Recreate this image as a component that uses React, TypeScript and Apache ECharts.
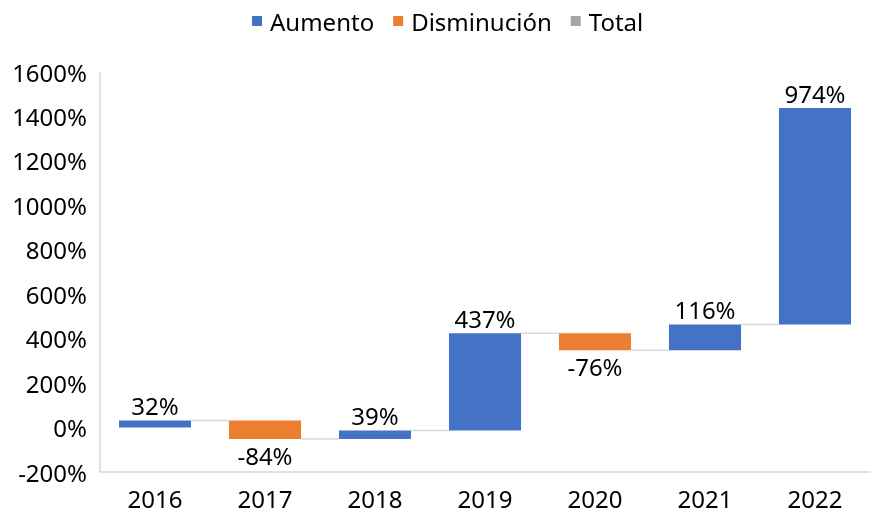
import React, { useEffect, useRef } from "react";
import * as echarts from "echarts";

const categories = ["2016", "2017", "2018", "2019", "2020", "2021", "2022"];
const changes = [32, -84, 39, 437, -76, 116, 974];
const legendNames = ["Aumento", "Disminución", "Total"];
const colors = { up: "#4472c4", down: "#ed7d31", total: "#a5a5a5", connector: "#d9d9d9" };
const yMin = -200;
const yMax = 1600;
const yInterval = 200;

const FONT = "Noto Sans";
const FS = 24;

export default function App() {
  const ref = useRef<HTMLDivElement>(null);
  useEffect(() => {
    if (!ref.current) return;
    const chart = echarts.init(ref.current, undefined, { renderer: "svg" });

    const starts: number[] = [];
    const ends: number[] = [];
    let cum = 0;
    changes.forEach((d) => {
      starts.push(cum);
      cum += d;
      ends.push(cum);
    });
    const upData: number[][] = [];
    const downData: number[][] = [];
    changes.forEach((d, i) => {
      const item = [i, starts[i], ends[i], d];
      if (d >= 0) upData.push(item);
      else downData.push(item);
    });
    const connData: number[][] = [];
    for (let i = 0; i < changes.length - 1; i++) connData.push([i, ends[i]]);

    const BAR_FRAC = 0.655;

    const makeRender = (color: string) => (params: any, api: any) => {
      const i = api.value(0);
      const s = api.value(1);
      const e = api.value(2);
      const d = api.value(3);
      const p1 = api.coord([i, s]);
      const p2 = api.coord([i, e]);
      const w = api.size([1, 0])[0] * BAR_FRAC;
      const top = Math.min(p1[1], p2[1]);
      const h = Math.abs(p1[1] - p2[1]);
      const isUp = d >= 0;
      return {
        type: "group",
        children: [
          {
            type: "rect",
            shape: { x: p1[0] - w / 2, y: top, width: w, height: h },
            style: { fill: color },
          },
          {
            type: "text",
            x: p1[0],
            y: isUp ? top - 3 : top + h + 4,
            style: {
              text: d + "%",
              fill: "#000",
              fontFamily: FONT,
              fontSize: FS,
              align: "center",
              verticalAlign: isUp ? "bottom" : "top",
            },
          },
        ],
      };
    };

    const connRender = (params: any, api: any) => {
      const i = api.value(0);
      const lv = api.value(1);
      const a = api.coord([i, lv]);
      const b = api.coord([i + 1, lv]);
      const w = api.size([1, 0])[0] * BAR_FRAC;
      return {
        type: "line",
        shape: { x1: a[0] + w / 2, y1: a[1], x2: b[0] - w / 2, y2: b[1] },
        style: { stroke: colors.connector, lineWidth: 1.5 },
      };
    };

    chart.setOption({
      animation: false,
      legend: {
        data: legendNames,
        top: 4,
        left: 247,
        icon: "rect",
        itemWidth: 10,
        itemHeight: 10,
        itemGap: 19,
        textStyle: { fontFamily: FONT, fontSize: FS, color: "#000", padding: [0, 0, 0, 3] },
      },
      grid: { left: 100, right: 1, top: 72, bottom: 44, containLabel: false },
      xAxis: {
        type: "category",
        data: categories,
        axisLine: { show: true, onZero: false, lineStyle: { color: "#d9d9d9", width: 1.5 } },
        axisTick: { show: false },
        axisLabel: { fontFamily: FONT, fontSize: FS, color: "#000", margin: 14 },
      },
      yAxis: {
        type: "value",
        min: yMin,
        max: yMax,
        interval: yInterval,
        splitLine: { show: false },
        axisLine: { show: true, lineStyle: { color: "#d9d9d9", width: 1.5 } },
        axisTick: { show: false },
        axisLabel: {
          fontFamily: FONT,
          fontSize: FS,
          color: "#000",
          margin: 13,
          formatter: (v: number) => v + "%",
        },
      },
      series: [
        {
          name: "connectors",
          type: "custom",
          renderItem: connRender,
          data: connData,
          encode: { x: 0, y: 1 },
          silent: true,
        },
        {
          name: "Aumento",
          type: "custom",
          renderItem: makeRender(colors.up),
          data: upData,
          encode: { x: 0, y: [1, 2] },
          itemStyle: { color: colors.up },
        },
        {
          name: "Disminución",
          type: "custom",
          renderItem: makeRender(colors.down),
          data: downData,
          encode: { x: 0, y: [1, 2] },
          itemStyle: { color: colors.down },
        },
        {
          name: "Total",
          type: "bar",
          data: [],
          itemStyle: { color: colors.total },
        },
      ],
    });
    return () => chart.dispose();
  }, []);
  return (
    <div
      ref={ref}
      style={{ position: "fixed", left: 0, top: 0, width: 871, height: 516 }}
    />
  );
}
